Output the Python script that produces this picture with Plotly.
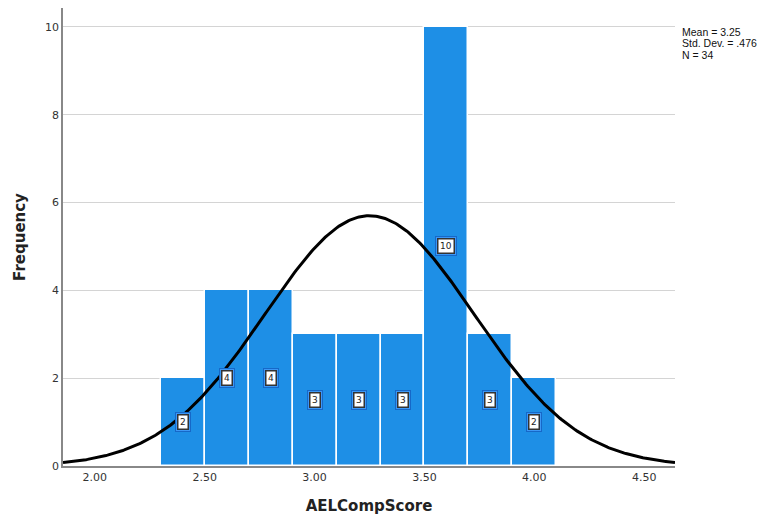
import numpy as np
import plotly.graph_objects as go

# Histogram data (bin edges and counts)
bin_starts = [2.3, 2.5, 2.7, 2.9, 3.1, 3.3, 3.5, 3.7, 3.9]
bin_width = 0.2
counts = [2, 4, 4, 3, 3, 3, 10, 3, 2]
count_labels = ["2", "4", "4", "3", "3", "3", "10", "3", "2"]

# Summary statistics
mean_val = 3.25
sd_val = 0.476
n_val = 34
stats_lines = ["Mean = 3.25", "Std. Dev. = .476", "N = 34"]

x_ticks = [2.0, 2.5, 3.0, 3.5, 4.0, 4.5]
y_ticks = [0, 2, 4, 6, 8, 10]
x_range = [1.855, 4.64]
y_range = [0, 10.43]

BAR = "#1e8fe6"
FONT = "DejaVu Sans"

centers = [s + bin_width / 2 for s in bin_starts]

fig = go.Figure()
fig.add_trace(go.Bar(
    x=centers, y=counts, width=[bin_width] * len(counts),
    marker=dict(color=BAR, line=dict(color="white", width=1.5)),
    hoverinfo="skip", showlegend=False,
))

# Fitted normal curve from the displayed statistics
xs = np.linspace(x_range[0], x_range[1], 400)
ys = n_val * bin_width / (sd_val * np.sqrt(2 * np.pi)) * np.exp(-0.5 * ((xs - mean_val) / sd_val) ** 2)
fig.add_trace(go.Scatter(x=xs, y=ys, mode="lines", line=dict(color="black", width=3),
                         hoverinfo="skip", showlegend=False))

# Data labels at half height
for cx, c, lab in zip(centers, counts, count_labels):
    fig.add_annotation(x=cx, y=c / 2, text=lab, showarrow=False,
                       font=dict(family=FONT, size=9, color="rgba(0,0,0,0)"),
                       bgcolor="#3b97f6", bordercolor="#1668c8", borderwidth=1, borderpad=4)
    fig.add_annotation(x=cx, y=c / 2, text=lab, showarrow=False,
                       font=dict(family=FONT, size=9, color="#222"),
                       bgcolor="white", bordercolor="#333", borderwidth=1.5, borderpad=1.5)

plot_h = 519 - 8 - 53
for i, line in enumerate(stats_lines):
    fig.add_annotation(xref="paper", yref="paper", x=1.009,
                       y=(466 - 32 - 11.5 * i) / plot_h, xanchor="left", yanchor="middle",
                       align="left", showarrow=False, text=line, borderpad=0,
                       font=dict(family="Liberation Sans", size=10.5, color="#111"))

fig.update_layout(
    width=771, height=519,
    margin=dict(l=63, r=96, t=8, b=53),
    plot_bgcolor="white", paper_bgcolor="white",
    bargap=0,
    font=dict(family=FONT, color="#333"),
    xaxis=dict(range=x_range, tickvals=x_ticks, tickformat=".2f",
               showgrid=False, zeroline=False, showline=True, linecolor="#888", linewidth=1.5,
               tickfont=dict(size=11, color="#333"), ticks="",
               title=dict(text="<b>AELCompScore</b>", font=dict(size=15, color="#222"), standoff=18)),
    yaxis=dict(range=y_range, tickvals=y_ticks, showgrid=True, gridcolor="#d4d4d4", gridwidth=1,
               zeroline=False, showline=True, linecolor="#888", linewidth=1.5,
               tickfont=dict(size=11, color="#333"), ticks="",
               title=dict(text="<b>Frequency</b>", font=dict(size=15, color="#222"), standoff=16)),
)

fig.write_html("out.html")
